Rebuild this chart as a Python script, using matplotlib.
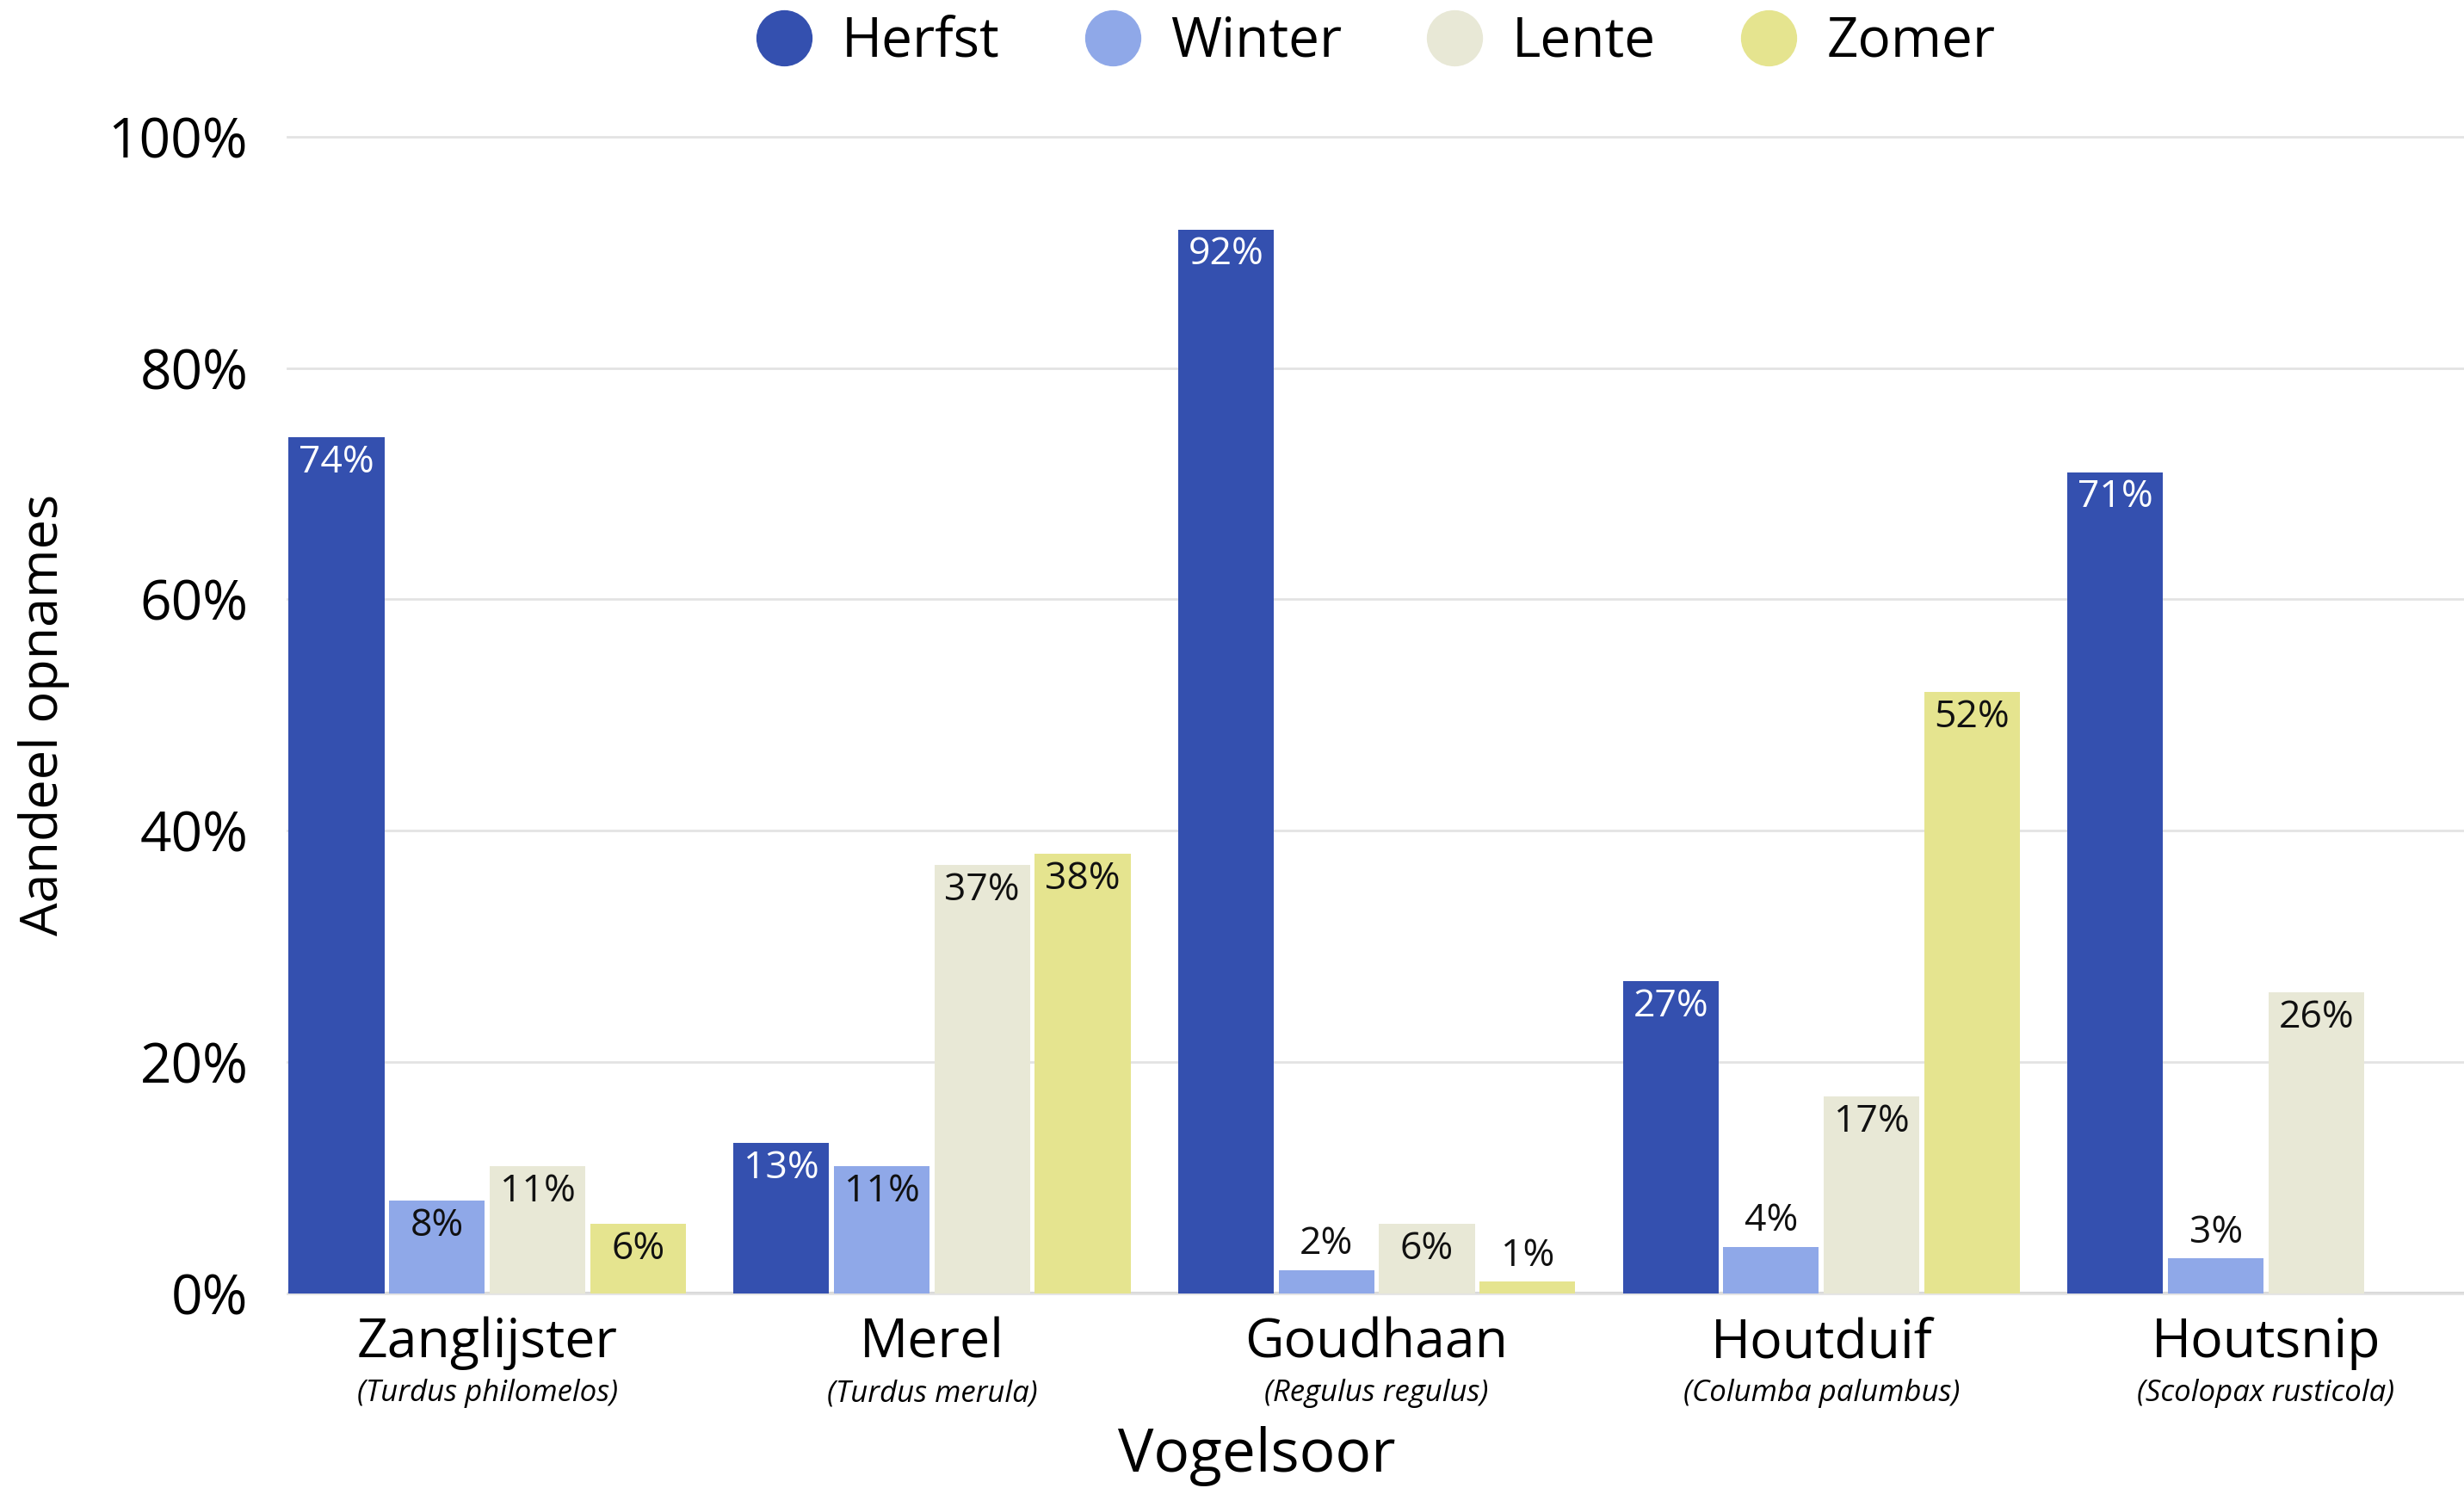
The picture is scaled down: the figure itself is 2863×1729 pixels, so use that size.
import matplotlib.pyplot as plt
from matplotlib.lines import Line2D
import numpy as np

soorten = ['Zanglijster', 'Merel', 'Goudhaan', 'Houtduif', 'Houtsnip']
latijn = ['(Turdus philomelos)', '(Turdus merula)', '(Regulus regulus)',
          '(Columba palumbus)', '(Scolopax rusticola)']
seizoenen = ['Herfst', 'Winter', 'Lente', 'Zomer']
herfst = [74, 13, 92, 27, 71]
winter = [8, 11, 2, 4, 3]
lente = [11, 37, 6, 17, 26]
zomer = [6, 38, 1, 52, None]   # Houtsnip: geen zomerbalk

kleuren = ['#3450AF', '#8FA8E8', '#E8E8D6', '#E5E48F']
tekstkleur = ['white', '#111111', '#111111', '#111111']

plt.rcParams['font.family'] = ['Open Sans', 'DejaVu Sans']

fig = plt.figure(figsize=(28.63, 17.29), dpi=100)
ax = fig.add_axes([0.1167, 0.131, 0.8833, 0.777])

x = np.arange(len(soorten))
stap = 0.226
breedte = 0.215
for i, (naam, reeks) in enumerate(zip(seizoenen, [herfst, winter, lente, zomer])):
    pos = x + (i - 1.5) * stap
    vals = [np.nan if v is None else v for v in reeks]
    ax.bar(pos, vals, width=breedte, color=kleuren[i], label=naam, zorder=3)
    for p, v in zip(pos, reeks):
        if v is None:
            continue
        if v >= 5:
            ax.text(p, v - 2.2, f'{v}%', ha='center', va='center', fontsize=32,
                    color=tekstkleur[i], zorder=4)
        else:
            ax.text(p, v + 2.2, f'{v}%', ha='center', va='center', fontsize=32,
                    color='#111111', zorder=4)

ax.set_xlim(-0.449, 4.445)
ax.set_ylim(0, 100)
ax.set_yticks([0, 20, 40, 60, 80, 100])
ax.set_yticklabels([f'{t}%' for t in [0, 20, 40, 60, 80, 100]], fontsize=46)
ax.tick_params(axis='y', length=0, pad=33)
ax.set_xticks([])
ax.grid(axis='y', color='#e3e3e3', linewidth=2, zorder=0, clip_on=False)
for s in ax.spines.values():
    s.set_visible(False)
ax.axhline(0, color='#d9d9d9', linewidth=3, zorder=2)

for xi, naam, lat in zip(x, soorten, latijn):
    ax.annotate(naam, (xi, 0), xycoords=('data', 'axes fraction'),
                xytext=(0, -42), textcoords='offset points',
                ha='center', va='center', fontsize=45)
    ax.annotate(lat, (xi, 0), xycoords=('data', 'axes fraction'),
                xytext=(0, -84), textcoords='offset points',
                ha='center', va='center', fontsize=25, style='italic')

fig.text(0.0179, 0.5195, 'Aandeel opnames', rotation=90, ha='center',
         va='center', fontsize=44)
fig.text(0.510, 0.0215, 'Vogelsoor', ha='center', va='center', fontsize=50)

handles = [Line2D([], [], marker='o', linestyle='', markersize=46,
                  markerfacecolor=k, markeredgecolor=k) for k in kleuren]
ax.legend(handles, seizoenen, loc='center', bbox_to_anchor=(0.5, 1.082),
          ncol=4, frameon=False, fontsize=46, handlelength=1.0,
          columnspacing=1.55, handletextpad=0.55)

fig.savefig('out.png', dpi=100, facecolor='white')
